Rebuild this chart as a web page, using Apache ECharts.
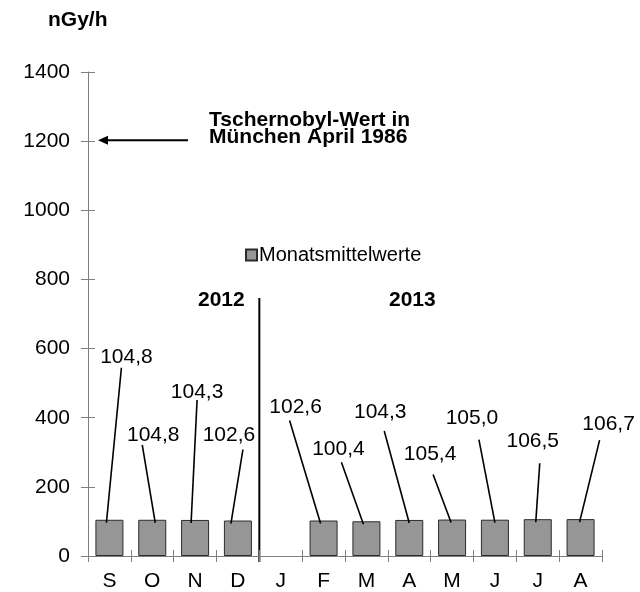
<!DOCTYPE html>
<html><head><meta charset="utf-8">
<script src="https://cdn.jsdelivr.net/npm/echarts@6/dist/echarts.min.js"></script>
<style>html,body{margin:0;padding:0;background:#fff}#c{width:640px;height:592px}</style>
</head><body><div id="c"></div>
<script>
// ---- data ----
const categories = ['S', 'O', 'N', 'D', 'J', 'F', 'M', 'A', 'M', 'J', 'J', 'A'];
const monthlyMeans = [104.8, 104.8, 104.3, 102.6, null, 102.6, 100.4, 104.3, 105.4, 105.0, 106.5, 106.7];
const yTickLabels = ['0', '200', '400', '600', '800', '1000', '1200', '1400'];
const seriesName = 'Monatsmittelwerte';
const unitLabel = 'nGy/h';
const yearLabels = ['2012', '2013'];
const annotationLines = ['Tschernobyl-Wert in', 'München April 1986'];
const annotationValue = 1200;

// ---- label layout (pixel offsets from the top centre of each bar) ----
const labelOffset = [[17,-163],[1,-85],[2,-128],[-9,-85],null,[-28,-113],[-28,-72],[-29,-108],[-22,-65],[-23,-101],[-5,-78],[28,-95]];
const leaderTop = [[12,-152],[-10,-75],[2,-120],[5,-71],null,[-34,-100],[-25,-59],[-25,-89],[-19,-45],[-16,-80],[2,-56],[19,-79]];
const leaderBottomDx = [-3,3,-4,-7,0,-3,-3,0,-1,0,-2,-1];

const FONT = '"Liberation Sans", Arial, sans-serif';
const FS = 21;
const AXIS_GRAY = '#7f7f7f';
const fmt = v => v.toFixed(1).replace('.', ',');

const chart = echarts.init(document.getElementById('c'), null, {renderer: 'canvas'});
const yMax = Number(yTickLabels[yTickLabels.length - 1]);
const yInterval = Number(yTickLabels[1]) - Number(yTickLabels[0]);

const option = {
  animation: false,
  backgroundColor: '#fff',
  grid: {left: 88, right: 38, top: 72, bottom: 36},
  legend: {
    data: [seriesName], left: 245, top: 245, padding: 0,
    itemWidth: 11, itemHeight: 11, icon: 'rect',
    textStyle: {fontSize: 20, fontFamily: FONT, color: '#000', padding: [0, 0, 0, -3]}
  },
  xAxis: [{
    type: 'category', data: categories, boundaryGap: true,
    axisLine: {show: true, lineStyle: {color: AXIS_GRAY, width: 1}},
    axisTick: {show: true, length: 6, lineStyle: {color: AXIS_GRAY}},
    axisLabel: {fontSize: FS, fontFamily: FONT, color: '#000', margin: 15},
    splitLine: {show: false}
  }, {
    type: 'category', data: categories, boundaryGap: true, position: 'bottom',
    axisLine: {show: false},
    axisTick: {show: true, inside: true, length: 6, lineStyle: {color: AXIS_GRAY}},
    axisLabel: {show: false}, splitLine: {show: false}
  }],
  yAxis: [{
    type: 'value', min: 0, max: yMax, interval: yInterval,
    axisLine: {show: true, lineStyle: {color: AXIS_GRAY, width: 1}},
    axisTick: {show: true, length: 7, lineStyle: {color: AXIS_GRAY}},
    axisLabel: {fontSize: FS, fontFamily: FONT, color: '#000', margin: 18,
      formatter: v => yTickLabels[Math.round(v / yInterval)] ?? String(v)},
    splitLine: {show: false}
  }, {
    type: 'value', min: 0, max: yMax, interval: yInterval, position: 'left',
    axisLine: {show: false},
    axisTick: {show: true, inside: true, length: 7, lineStyle: {color: AXIS_GRAY}},
    axisLabel: {show: false}, splitLine: {show: false}
  }],
  series: [{
    name: seriesName, type: 'bar', xAxisIndex: 0, yAxisIndex: 0,
    data: monthlyMeans.map(v => v == null ? '-' : v),
    barWidth: 28,
    itemStyle: {color: '#969696', borderColor: '#2b2b2b', borderWidth: 1},
    label: {show: false}, z: 2
  }, {
    name: 'labels', type: 'custom', xAxisIndex: 0, yAxisIndex: 0, z: 5,
    data: monthlyMeans.map((v, i) => [i, v == null ? '-' : v]),
    encode: {x: 0, y: 1},
    renderItem: function (params, api) {
      const i = params.dataIndex;
      const v = api.value(1);
      if (v == null || isNaN(v) || !labelOffset[i]) return null;
      const p = api.coord([i, v]);
      const lo = labelOffset[i], lt = leaderTop[i];
      return {
        type: 'group',
        children: [{
          type: 'line',
          shape: {x1: p[0] + lt[0], y1: p[1] + lt[1], x2: p[0] + leaderBottomDx[i], y2: p[1] + 3},
          style: {stroke: '#000', lineWidth: 1.6}
        }, {
          type: 'text',
          style: {
            text: fmt(v), x: p[0] + lo[0], y: p[1] + lo[1],
            align: 'center', verticalAlign: 'middle',
            fontSize: FS, fontFamily: FONT, fill: '#000'
          }
        }]
      };
    }
  }]
};
chart.setOption(option);

const yPix = v => chart.convertToPixel({yAxisIndex: 0}, v);
const xPix = i => chart.convertToPixel({xAxisIndex: 0}, i);
const divX = (xPix(3) + xPix(4)) / 2;
const y0 = yPix(0);
const ya = yPix(annotationValue);

const boldText = (text, x, y, align) => ({
  type: 'text', x: x, y: y,
  style: {text: text, fontSize: FS, fontWeight: 'bold', fontFamily: FONT, fill: '#000', align: align, verticalAlign: 'middle'}
});

chart.setOption({
  graphic: [
    boldText(unitLabel, 48, 20, 'left'),
    boldText(annotationLines[0], 209, 120, 'left'),
    boldText(annotationLines[1], 209, 137, 'left'),
    {type: 'line', shape: {x1: 106, y1: ya - 1, x2: 188, y2: ya - 1}, style: {stroke: '#000', lineWidth: 2}},
    {type: 'polygon', shape: {points: [[98, ya - 1], [108, ya - 5.5], [108, ya + 3.5]]}, style: {fill: '#000'}},
    {type: 'line', shape: {x1: divX, y1: 298, x2: divX, y2: y0 + 6}, style: {stroke: '#000', lineWidth: 2}},
    boldText(yearLabels[0], divX - 38, 300, 'center'),
    boldText(yearLabels[1], divX + 153, 300, 'center')
  ]
});
</script></body></html>
